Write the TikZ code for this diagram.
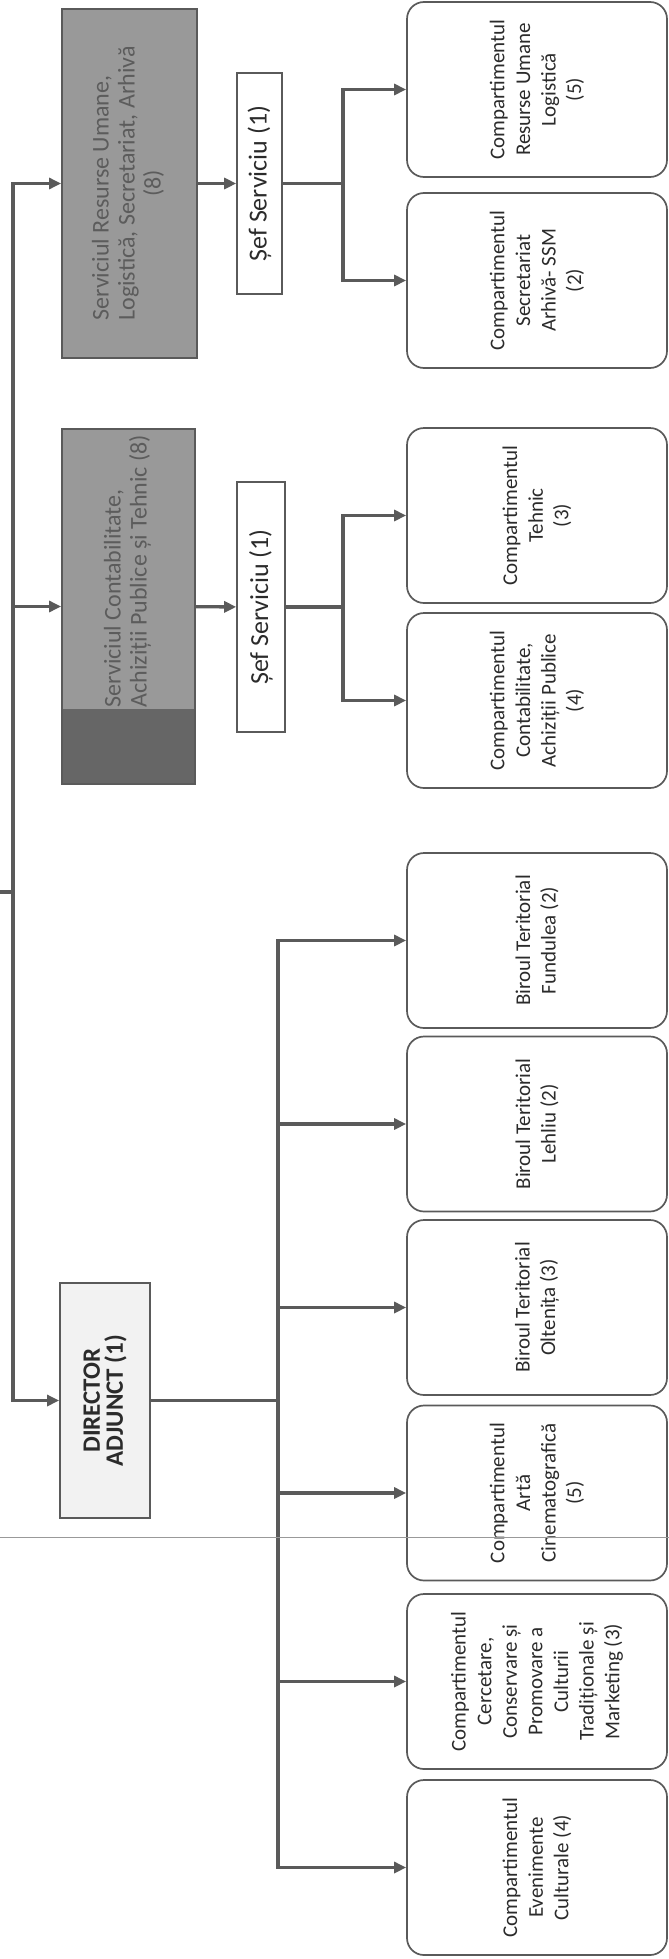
\documentclass[tikz,border=0pt]{standalone}
\usepackage{fontspec}
\setmainfont{Carlito}
\usetikzlibrary{arrows.meta}

\definecolor{ink}{HTML}{2B2B2B}
\definecolor{wire}{HTML}{5A5A5A}

\begin{document}
\begin{tikzpicture}[
  x=1pt, y=-1pt,
  svc/.style={draw=wire, line width=1.8pt, fill=black!40, rotate=90, inner sep=0pt,
              text=black!64, font=\fontsize{24}{26}\selectfont},
  head/.style={draw=wire, line width=1.6pt, fill=white, rotate=90, inner sep=0pt,
               text=ink, font=\fontsize{26}{30}\selectfont},
  dep/.style={draw=wire, line width=1.8pt, fill=black!5, rotate=90, inner sep=0pt,
              align=center, text=ink, font=\bfseries\fontsize{25}{23}\selectfont},
  unit/.style={draw=wire, line width=1.7pt, rounded corners=17pt, rotate=90,
               inner sep=0pt, minimum width=175pt, minimum height=260pt,
               align=center, text=ink, font=\fontsize{21}{25.6}\selectfont},
  feed/.style={draw=wire, line width=3.3pt, line cap=rect},
  link/.style={feed, -{Triangle[length=12pt, width=11pt]}},
  fold/.style={draw=black!40, line width=0.9pt},
]
\useasboundingbox (0,0) rectangle (669,1959);

\node[svc, minimum width=349pt, minimum height=135pt] (svcRes) at (129.5,183.5)
    {\begin{tabular}{@{}l@{}}Serviciul Resurse Umane,\\ Logistică, Secretariat, Arhivă\\
     \multicolumn{1}{@{}c@{}}{(8)}\end{tabular}};
\node[svc, minimum width=355pt, minimum height=133pt] (svcCon) at (128.5,606.5)
    {\begin{tabular}{@{\hspace{71pt}}l@{}}Serviciul Contabilitate,\\
     Achiziții Publice și Tehnic (8)\end{tabular}};
\fill[black!60] (63,709) rectangle (194,783);
\node[dep, minimum width=235pt, minimum height=90pt] (dirAdj) at (105,1400.5)
    {DIRECTOR\\ ADJUNCT (1)};

\node[head, minimum width=221pt, minimum height=45pt] (sefRes) at (259.5,183.5)
    {Șef Serviciu (1)};
\node[head, minimum width=250pt, minimum height=48pt] (sefCon) at (261,607)
    {Șef Serviciu (1)};

\node[unit] (cptRU) at (537,89.5)
    {Compartimentul\\ Resurse Umane\\ Logistică\\ (5)};
\node[unit] (cptSec) at (537,280.5)
    {Compartimentul\\ Secretariat\\ Arhivă- SSM\\ (2)};
\node[unit] (cptTeh) at (537,515.5)
    {Compartimentul\\ Tehnic\\ (3)};
\node[unit] (cptCon) at (537,700.5)
    {Compartimentul\\ Contabilitate,\\ Achiziții Publice\\ (4)};
\node[unit] (birFun) at (537,940.5)
    {Biroul Teritorial\\ Fundulea (2)};
\node[unit] (birLeh) at (537,1124)
    {Biroul Teritorial\\ Lehliu (2)};
\node[unit] (birOlt) at (537,1307.5)
    {Biroul Teritorial\\ Oltenița (3)};
\node[unit] (cptArt) at (537,1493)
    {Compartimentul\\ Artă\\ Cinematografică\\ (5)};
\node[unit] (cptCer) at (537,1681.5)
    {Compartimentul\\ Cercetare,\\ Conservare și\\ Promovare a\\ Culturii\\
     Tradiționale și\\ Marketing (3)};
\node[unit] (cptEve) at (537,1867.5)
    {Compartimentul\\ Evenimente\\ Culturale (4)};

\coordinate (top) at (13,183.5);
\coordinate (bot) at (13,1400.5);
\coordinate (parent) at (0,892);
\coordinate (fork1) at (343,0);
\coordinate (fork2) at (343,0);
\coordinate (fork3) at (278,0);

\draw[feed] (top) -- (bot);
\draw[feed] (parent) -- (parent -| top);
\draw[link] (top) -- (svcRes);
\draw[link] (top |- svcCon) -- (svcCon);
\draw[link] (bot) -- (dirAdj);

\draw[link] (svcRes) -- (sefRes);
\draw[feed] (sefRes) -- (sefRes -| fork1);
\draw[feed] (fork1 |- cptRU) -- (fork1 |- cptSec);
\draw[link] (fork1 |- cptRU) -- (cptRU);
\draw[link] (fork1 |- cptSec) -- (cptSec);

\draw[link] (svcCon) -- (sefCon);
\draw[feed] (sefCon) -- (sefCon -| fork2);
\draw[feed] (fork2 |- cptTeh) -- (fork2 |- cptCon);
\draw[link] (fork2 |- cptTeh) -- (cptTeh);
\draw[link] (fork2 |- cptCon) -- (cptCon);

\draw[feed] (dirAdj) -- (dirAdj -| fork3);
\draw[feed] (fork3 |- birFun) -- (fork3 |- cptEve);
\foreach \unit in {birFun, birLeh, birOlt, cptArt, cptCer, cptEve}
  \draw[link] (fork3 |- \unit) -- (\unit);

\coordinate (foldL) at (0,1537);
\coordinate (foldR) at (669,1537);
\draw[fold] (foldL) -- (foldR);

\end{tikzpicture}
\end{document}
